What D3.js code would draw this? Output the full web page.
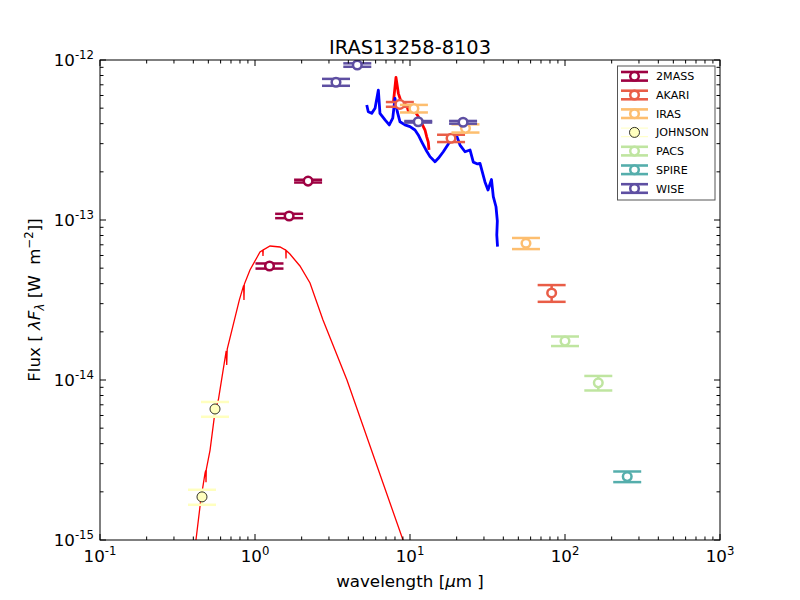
<!DOCTYPE html>
<html>
<head>
<meta charset="utf-8">
<script src="https://cdnjs.cloudflare.com/ajax/libs/d3/7.8.5/d3.min.js"></script>
<style>
  body { margin: 0; background: #fff; }
  text { font-family: "DejaVu Sans", sans-serif; }
</style>
</head>
<body>
<div id="chart-container"></div>
<script>
// photometry: wavelength [um], flux [W m^-2], flux error
const bands = ["2MASS", "AKARI", "IRAS", "JOHNSON", "PACS", "SPIRE", "WISE"];
const bandColors = ["#9e0142", "#e95d47", "#fdbe6f", "#ffffbf", "#bfe5a0", "#55aeac", "#5e4fa2"];

const twomassWave = [1.24, 1.66, 2.2];
const twomassFlux = [5.16e-14, 1.06e-13, 1.75e-13];
const twomassErr = [0.19e-14, 0.033e-13, 0.035e-13];

const akariWave = [8.6, 18.4, 82];
const akariFlux = [5.28e-13, 3.24e-13, 3.5e-14];
const akariErr = [0.18e-13, 0.17e-13, 0.42e-14];

const irasWave = [10.6, 22.8, 56];
const irasFlux = [4.97e-13, 3.74e-13, 7.15e-14];
const irasErr = [0.27e-13, 0.22e-13, 0.57e-14];

const johnsonWave = [0.455, 0.552];
const johnsonFlux = [1.86e-15, 6.59e-15];
const johnsonErr = [0.2e-15, 0.7e-15];

const pacsWave = [100, 164];
const pacsFlux = [1.75e-14, 9.6e-15];
const pacsErr = [0.12e-14, 0.1e-14];

const spireWave = [252];
const spireFlux = [2.49e-15];
const spireErr = [0.19e-15];

const wiseWave = [3.33, 4.57, 11.3, 22];
const wiseFlux = [7.26e-13, 9.3e-13, 4.11e-13, 4.08e-13];
const wiseErr = [0.36e-13, 0.23e-13, 0.045e-13, 0.08e-13];

// stellar model (thin red)
const modelWave = [0.404, 0.416, 0.447, 0.476, 0.481, 0.483, 0.485, 0.513, 0.555, 0.58, 0.652, 0.657, 0.662,
  0.792, 0.845, 0.849, 0.853, 0.928, 1.077, 1.122, 1.126, 1.13, 1.25, 1.45, 1.58, 1.585, 1.59,
  1.68, 1.95, 2.264, 2.746, 3.92, 5.94, 9.01, 10.0];
const modelFlux = [7.5e-16, 1.0e-15, 1.78e-15, 2.62e-15, 2.72e-15, 2.3e-15, 2.76e-15, 3.65e-15, 6.59e-15, 7.5e-15, 1.52e-14, 1.24e-14, 1.56e-14,
  3.16e-14, 3.9e-14, 3.16e-14, 3.96e-14, 4.87e-14, 6.31e-14, 6.47e-14, 5.96e-14, 6.5e-14, 6.88e-14, 6.78e-14, 6.47e-14, 5.75e-14, 6.45e-14,
  6.13e-14, 5.16e-14, 4.04e-14, 2.37e-14, 1.0e-14, 3.16e-15, 1.0e-15, 7.5e-16];

// mid-IR spectrum (thick red)
const specRedWave = [7.83, 8.12, 8.41, 8.84, 9.52, 9.75, 10.0, 10.61, 11.31, 11.9, 12.5, 12.82, 13.12, 13.26];
const specRedFlux = [5.54e-13, 7.78e-13, 6.19e-13, 5.36e-13, 5.23e-13, 4.8e-13, 5.08e-13, 4.87e-13, 4.43e-13, 4.02e-13, 3.65e-13, 3.31e-13, 3.07e-13, 2.74e-13];

// mid-IR spectrum (blue)
const specBlueWave = [5.26, 5.38, 5.66, 5.95, 6.25, 6.4, 6.9, 7.35, 7.74, 8.0, 8.28, 8.62, 9.28, 10.0, 10.77, 11.31,
  11.9, 12.68, 13.46, 14.5, 15.23, 16.4, 17.67, 19.03, 20.01, 21.02, 22.64, 24.39, 25.61, 27.27, 28.29, 30.46,
  31.86, 33.56, 34.47, 35.88, 36.59, 36.3, 36.7];
const specBlueFlux = [5.23e-13, 4.75e-13, 4.64e-13, 4.99e-13, 6.49e-13, 4.64e-13, 4.22e-13, 3.93e-13, 4.33e-13, 5.76e-13, 4.75e-13, 4.11e-13, 3.93e-13, 3.83e-13, 3.65e-13, 3.4e-13,
  3.08e-13, 2.74e-13, 2.49e-13, 2.31e-13, 2.43e-13, 2.67e-13, 2.99e-13, 3.24e-13, 3.35e-13, 2.94e-13, 2.67e-13, 2.74e-13, 2.3e-13, 2.24e-13, 2.26e-13, 1.73e-13,
  1.54e-13, 1.79e-13, 1.4e-13, 1.21e-13, 9.86e-14, 8.06e-14, 6.81e-14];

const xDecades = [-1, 0, 1, 2, 3];
const yDecades = [-15, -14, -13, -12];

const photometry = [
  [twomassWave, twomassFlux, twomassErr],
  [akariWave, akariFlux, akariErr],
  [irasWave, irasFlux, irasErr],
  [johnsonWave, johnsonFlux, johnsonErr],
  [pacsWave, pacsFlux, pacsErr],
  [spireWave, spireFlux, spireErr],
  [wiseWave, wiseFlux, wiseErr],
].map(([w, f, e], i) => ({
  name: bands[i],
  color: bandColors[i],
  points: w.map((d, j) => ({ wave: d, flux: f[j], err: e[j] })),
}));

const [svg, x, y, box] = renderSvg();
renderLines();
renderPoints();
renderAxes();
renderLabels();
renderLegend();

function renderSvg() {
  const box = { left: 100, right: 720, top: 60, bottom: 540 };
  const svg = d3
    .select("#chart-container")
    .append("svg")
    .attr("width", 800)
    .attr("height", 600);

  svg
    .append("clipPath")
    .attr("id", "clip")
    .append("rect")
    .attr("x", box.left)
    .attr("y", box.top)
    .attr("width", box.right - box.left)
    .attr("height", box.bottom - box.top);

  const x = d3.scaleLog().domain([0.1, 1000]).range([box.left, box.right]);
  const y = d3.scaleLog().domain([1e-15, 1e-12]).range([box.bottom, box.top]);
  return [svg, x, y, box];
}

function renderLines() {
  const line = d3
    .line()
    .x((d) => x(d[0]))
    .y((d) => y(d[1]));
  const g = svg.append("g").attr("clip-path", "url(#clip)");

  g.append("path")
    .attr("d", line(d3.zip(modelWave, modelFlux)))
    .attr("fill", "none")
    .attr("stroke", "#ff0000")
    .attr("stroke-width", 1.3);

  g.append("path")
    .attr("d", line(d3.zip(specRedWave, specRedFlux)))
    .attr("fill", "none")
    .attr("stroke", "#ff0000")
    .attr("stroke-width", 2.8)
    .attr("stroke-linejoin", "round");

  g.append("path")
    .attr("d", line(d3.zip(specBlueWave, specBlueFlux)))
    .attr("fill", "none")
    .attr("stroke", "#0000ff")
    .attr("stroke-width", 2.8)
    .attr("stroke-linejoin", "round");
}

function renderPoints() {
  const cap = 14;
  photometry.forEach((band) => {
    const johnson = band.name === "JOHNSON";
    const g = svg.append("g").attr("clip-path", "url(#clip)");
    const pts = g.selectAll("g").data(band.points).enter().append("g");

    pts
      .append("line")
      .attr("x1", (d) => x(d.wave))
      .attr("x2", (d) => x(d.wave))
      .attr("y1", (d) => y(d.flux + d.err))
      .attr("y2", (d) => y(d.flux - d.err))
      .attr("stroke", band.color)
      .attr("stroke-width", 2.5);

    [1, -1].forEach((s) => {
      pts
        .append("line")
        .attr("x1", (d) => x(d.wave) - cap)
        .attr("x2", (d) => x(d.wave) + cap)
        .attr("y1", (d) => y(d.flux + s * d.err))
        .attr("y2", (d) => y(d.flux + s * d.err))
        .attr("stroke", band.color)
        .attr("stroke-width", 2.5);
    });

    pts
      .append("circle")
      .attr("cx", (d) => x(d.wave))
      .attr("cy", (d) => y(d.flux))
      .attr("r", johnson ? 5 : 4.3)
      .attr("fill", johnson ? band.color : "#fff")
      .attr("stroke", johnson ? "#000" : band.color)
      .attr("stroke-width", johnson ? 0.8 : 2.5);
  });
}

function renderAxes() {
  const g = svg.append("g");
  const major = 6;
  const minor = 3.5;

  const xTicks = [];
  xDecades.forEach((k) => {
    xTicks.push({ v: Math.pow(10, k), len: major });
    if (k < 3) d3.range(2, 10).forEach((m) => xTicks.push({ v: m * Math.pow(10, k), len: minor }));
  });
  const yTicks = [];
  yDecades.forEach((k) => {
    yTicks.push({ v: Math.pow(10, k), len: major });
    if (k < -12) d3.range(2, 10).forEach((m) => yTicks.push({ v: m * Math.pow(10, k), len: minor }));
  });

  xTicks.forEach((t) => {
    const px = x(t.v);
    g.append("line").attr("x1", px).attr("x2", px).attr("y1", box.bottom).attr("y2", box.bottom - t.len);
    g.append("line").attr("x1", px).attr("x2", px).attr("y1", box.top).attr("y2", box.top + t.len);
  });
  yTicks.forEach((t) => {
    const py = y(t.v);
    g.append("line").attr("x1", box.left).attr("x2", box.left + t.len).attr("y1", py).attr("y2", py);
    g.append("line").attr("x1", box.right).attr("x2", box.right - t.len).attr("y1", py).attr("y2", py);
  });
  g.selectAll("line").attr("stroke", "#000").attr("stroke-width", 1);

  g.append("rect")
    .attr("x", box.left)
    .attr("y", box.top)
    .attr("width", box.right - box.left)
    .attr("height", box.bottom - box.top)
    .attr("fill", "none")
    .attr("stroke", "#000")
    .attr("stroke-width", 1);

  // tick labels like 10^k
  xDecades.forEach((k) => {
    const t = g
      .append("text")
      .attr("x", x(Math.pow(10, k)))
      .attr("y", 562)
      .attr("text-anchor", "middle")
      .attr("font-size", 16.7);
    t.append("tspan").text("10");
    t.append("tspan").attr("dy", -7).attr("font-size", 11.7).text(k < 0 ? "-" + -k : k);
  });
  yDecades.forEach((k) => {
    const t = g
      .append("text")
      .attr("x", 94)
      .attr("y", y(Math.pow(10, k)) + 6)
      .attr("text-anchor", "end")
      .attr("font-size", 16.7);
    t.append("tspan").text("10");
    t.append("tspan").attr("dy", -7).attr("font-size", 11.7).text("-" + -k);
  });
}

function renderLabels() {
  svg
    .append("text")
    .attr("x", 410)
    .attr("y", 54)
    .attr("text-anchor", "middle")
    .attr("font-size", 19.4)
    .text("IRAS13258-8103");

  const xl = svg
    .append("text")
    .attr("x", 410)
    .attr("y", 587)
    .attr("text-anchor", "middle")
    .attr("font-size", 16.7);
  xl.append("tspan").text("wavelength [");
  xl.append("tspan").attr("font-style", "italic").text("\u03bc");
  xl.append("tspan").text("m\u00a0]");

  const yl = svg
    .append("text")
    .attr("transform", "translate(40,300) rotate(-90)")
    .attr("text-anchor", "middle")
    .attr("font-size", 16.7);
  yl.append("tspan").text("Flux [\u00a0");
  yl.append("tspan").attr("font-style", "italic").text("\u03bbF");
  yl.append("tspan").attr("font-style", "italic").attr("font-size", 11.7).attr("dy", 4).text("\u03bb");
  yl.append("tspan").attr("dy", -4).text("\u00a0[W\u00a0\u00a0m");
  yl.append("tspan").attr("font-size", 11.7).attr("dy", -7).text("\u22122");
  yl.append("tspan").attr("dy", 7).text("]]");
}

function renderLegend() {
  const legend = svg.append("g").attr("id", "legend");
  legend
    .append("rect")
    .attr("x", 617.5)
    .attr("y", 66)
    .attr("width", 97.5)
    .attr("height", 134)
    .attr("fill", "#fff")
    .attr("stroke", "#555")
    .attr("stroke-width", 1);

  const item = legend
    .selectAll(".legend-item")
    .data(photometry)
    .enter()
    .append("g")
    .attr("class", "legend-item")
    .attr("transform", (d, i) => `translate(0, ${76.3 + i * 18.7})`);

  item
    .append("line")
    .attr("x1", 634.5)
    .attr("x2", 634.5)
    .attr("y1", -4.3)
    .attr("y2", 4.3)
    .attr("stroke", (d) => d.color)
    .attr("stroke-width", 2.5);

  [-4.3, 4.3].forEach((dy) => {
    item
      .append("line")
      .attr("x1", 621)
      .attr("x2", 648)
      .attr("y1", dy)
      .attr("y2", dy)
      .attr("stroke", (d) => d.color)
      .attr("stroke-width", (d) => (d.name === "JOHNSON" ? 1 : 2.6));
  });

  item
    .append("circle")
    .attr("cx", 634.5)
    .attr("cy", 0)
    .attr("r", (d) => (d.name === "JOHNSON" ? 5 : 4.3))
    .attr("fill", (d) => (d.name === "JOHNSON" ? d.color : "#fff"))
    .attr("stroke", (d) => (d.name === "JOHNSON" ? "#000" : d.color))
    .attr("stroke-width", (d) => (d.name === "JOHNSON" ? 0.8 : 2.5));

  item
    .append("text")
    .attr("x", 656)
    .attr("y", 4)
    .attr("font-size", 11.1)
    .text((d) => d.name);
}
</script>
</body>
</html>
